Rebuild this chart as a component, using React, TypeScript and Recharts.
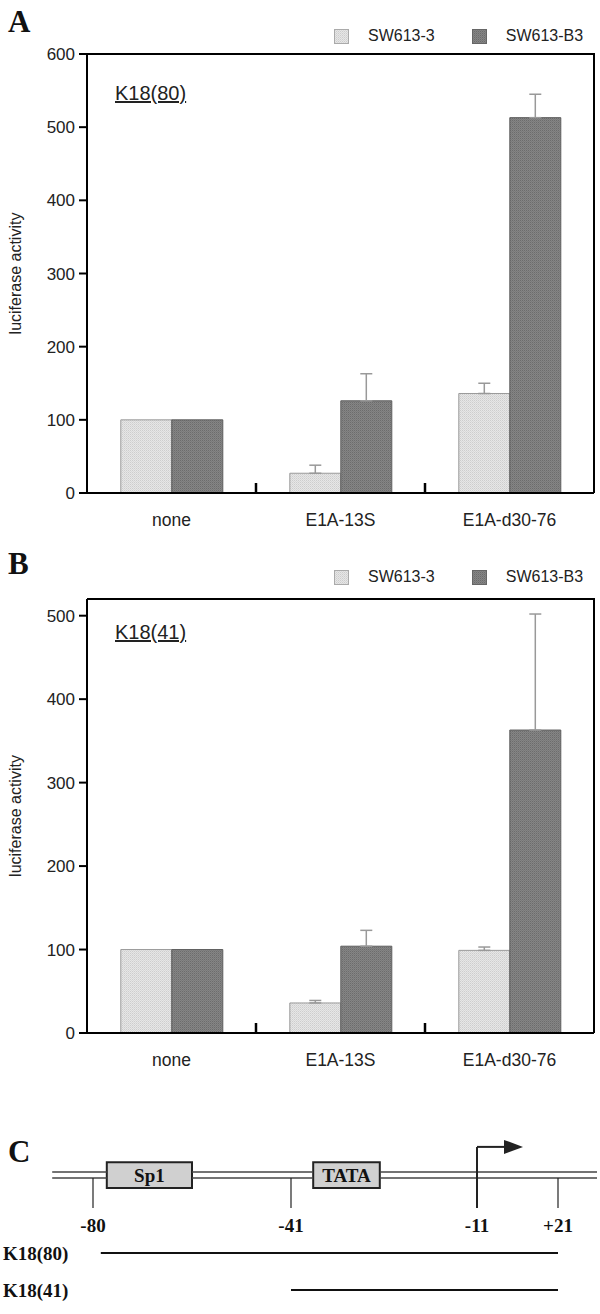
import {
  ComposedChart, Bar, XAxis, YAxis, ErrorBar, Legend, CartesianGrid,
  ReferenceLine, ReferenceArea, ReferenceDot,
} from 'recharts';

const SANS = '"Liberation Sans", Arial, sans-serif';
const SERIF = '"Liberation Serif", "Times New Roman", serif';

const groups = ['none', 'E1A-13S', 'E1A-d30-76'];
const cellLines = ['SW613-3', 'SW613-B3'];

// A: K18(80) reporter
const k80Sw3 = [100, 27, 136];
const k80Sw3Err = [null, 11, 14];
const k80B3 = [100, 126, 513];
const k80B3Err = [null, 37, 32];
const k80Ticks = [0, 100, 200, 300, 400, 500, 600];

// B: K18(41) reporter
const k41Sw3 = [100, 36, 99];
const k41Sw3Err = [null, 3, 4];
const k41B3 = [100, 104, 363];
const k41B3Err = [null, 19, 139];
const k41Ticks = [0, 100, 200, 300, 400, 500];

// C: promoter schematic, in diagram units (0-100 across the panel)
const siteLabels = ['-80', '-41', '-11', '+21'];
const sitePos = [15.5, 48.5, 79.5, 93];
const boxNames = ['Sp1', 'TATA'];
const boxFrom = [17.8, 52.2];
const boxTo = [32, 63.3];
const promoterSpan = [8.7, 99.5];
const constructs = ['K18(80)', 'K18(41)'];
const constructFrom = [16.8, 48.5];
const constructTo = 93;
const tssIndex = 2;

const toRows = (a: number[], ae: (number | null)[], b: number[], be: (number | null)[]) =>
  groups.map((g, i) => ({
    group: g,
    sw3: a[i],
    sw3Err: ae[i] == null ? null : [0, ae[i]],
    b3: b[i],
    b3Err: be[i] == null ? null : [0, be[i]],
  }));

const axisStroke = { stroke: '#000', strokeWidth: 2 };
const M = { top: 54, right: 6, left: 10, bottom: 12 };
const Y_W = 77;
const X_H = 40;

function GroupTick(props: any) {
  const { x, y, payload, index } = props;
  const half = payload?.offset ?? 84.5;
  return (
    <g>
      <text x={x} y={y + 27} textAnchor="middle" dominantBaseline="central"
        style={{ fontFamily: SANS, fontSize: 17.5, fill: '#222' }}>
        {payload.value}
      </text>
      {index > 0 && (
        <line x1={x - half} x2={x - half} y1={y} y2={y - 10} stroke="#000" strokeWidth={2.5} />
      )}
    </g>
  );
}

function KeyBox() {
  return (
    <div style={{ display: 'flex', alignItems: 'center', fontFamily: SANS, fontSize: 16, color: '#222' }}>
      {cellLines.map((name, i) => (
        <div key={name} style={{ display: 'flex', alignItems: 'center', marginRight: i === 0 ? 37 : 0 }}>
          <svg width={15} height={15} style={{ marginRight: 19 }}>
            <rect x={0.5} y={0.5} width={14} height={14}
              fill={i === 0 ? 'url(#texLight)' : 'url(#texDark)'}
              stroke={i === 0 ? '#aaa' : '#666'} />
          </svg>
          <span>{name}</span>
        </div>
      ))}
    </div>
  );
}

interface PanelProps {
  rows: any[];
  ticks: number[];
  yMax: number;
  construct: string;
  height: number;
  legendY: number;
  constructY: number;
}

function Panel({ rows, ticks, yMax, construct, height, legendY, constructY }: PanelProps) {
  const plotLeft = M.left + Y_W;
  const plotW = 600 - plotLeft - M.right;
  const plotH = height - M.top - M.bottom - X_H;
  return (
    <div style={{ position: 'relative', width: 600, height }}>
      <ComposedChart width={600} height={height} data={rows} margin={M}
        barCategoryGap="20%" barGap={0}>
        {/* top and right sides of the frame */}
        <CartesianGrid stroke="#000" strokeWidth={2}
          horizontalCoordinatesGenerator={({ offset }: any) => [offset.top]}
          verticalCoordinatesGenerator={({ offset }: any) => [offset.left + offset.width]} />
        <XAxis dataKey="group" height={X_H} interval={0} tickLine={false} tickSize={0} tickMargin={0}
          axisLine={axisStroke} tick={<GroupTick />} />
        <YAxis width={Y_W} type="number" domain={[0, yMax]} ticks={ticks}
          tickSize={8} tickMargin={4} tickLine={axisStroke} axisLine={axisStroke}
          tick={{ fontSize: 17, fill: '#222', fontFamily: SANS }}
          label={{
            value: 'luciferase activity', angle: -90, position: 'insideLeft', offset: 5,
            style: { textAnchor: 'middle', fontSize: 16, fontFamily: SANS, fill: '#222' },
          }} />
        <ReferenceLine y={yMax} stroke="#000" strokeWidth={2} />
        <Legend content={<KeyBox />} verticalAlign="middle" align="center"
          wrapperStyle={{ top: legendY - 10, left: 334, width: 262, height: 20 }} />
        <Bar dataKey="sw3" name={cellLines[0]} fill="url(#texLight)" stroke="#9a9a9a" strokeWidth={1}
          isAnimationActive={false}>
          <ErrorBar dataKey="sw3Err" direction="y" width={6} stroke="#999" strokeWidth={1.5} />
        </Bar>
        <Bar dataKey="b3" name={cellLines[1]} fill="url(#texDark)" stroke="#5e5e5e" strokeWidth={1}
          isAnimationActive={false}>
          <ErrorBar dataKey="b3Err" direction="y" width={6} stroke="#999" strokeWidth={1.5} />
        </Bar>
      </ComposedChart>
      <div style={{
        position: 'absolute', left: plotLeft, top: M.top - 1, width: plotW + 1, height: plotH + 1,
        boxSizing: 'border-box', borderTop: '2px solid #000', borderRight: '2px solid #000',
        pointerEvents: 'none', zIndex: 5,
      }} />
      <div style={{
        position: 'absolute', left: 115, top: constructY - 12, fontFamily: SANS, fontSize: 20,
        lineHeight: '24px', color: '#222', textDecoration: 'underline', zIndex: 5,
      }}>
        {construct}
      </div>
    </div>
  );
}

const serifLabel = (value: string, position: any = 'center') => ({
  value, position, offset: 0,
  style: { fontFamily: SERIF, fontSize: 19, fontWeight: 'bold', fill: '#111' },
});

function Schematic() {
  const lineY = [36.6, 39.3];
  const tickBottom = 52.7;
  const labelY = 60.3;
  const rowY = [72.8, 89.3];
  const arrowTop = 25.4;
  const tssX = sitePos[tssIndex];
  const strandCuts = [promoterSpan[0], ...boxFrom.flatMap((f, i) => [f, boxTo[i]]), promoterSpan[1]];
  const strandSegs: [number, number][] = [];
  for (let i = 0; i < strandCuts.length; i += 2) strandSegs.push([strandCuts[i], strandCuts[i + 1]]);

  return (
    <ComposedChart width={600} height={224} data={[{ x: 0, y: 0 }]}
      margin={{ top: 0, right: 0, bottom: 0, left: 0 }}>
      <XAxis type="number" dataKey="x" domain={[0, 100]} hide />
      <YAxis type="number" dataKey="y" domain={[0, 100]} reversed hide />
      {strandSegs.flatMap(([a, b], i) => lineY.map((ly, j) => (
        <ReferenceLine key={`s${i}-${j}`} segment={[{ x: a, y: ly }, { x: b, y: ly }]}
          stroke="#444" strokeWidth={1.5} />
      )))}
      {boxNames.map((name, i) => (
        <ReferenceArea key={name} x1={boxFrom[i]} x2={boxTo[i]} y1={32.3} y2={43.8}
          fill="#d0d0d0" fillOpacity={1} stroke="#222" strokeWidth={2}
          label={serifLabel(name)} />
      ))}
      {sitePos.map((p, i) => (
        <ReferenceLine key={`t${i}`}
          segment={[{ x: p, y: i === tssIndex ? arrowTop : lineY[1] }, { x: p, y: tickBottom }]}
          stroke="#222" strokeWidth={i === tssIndex ? 2 : 1.2} />
      ))}
      <ReferenceLine segment={[{ x: tssX, y: arrowTop }, { x: tssX + 4.5, y: arrowTop }]}
        stroke="#222" strokeWidth={2} />
      <ReferenceDot x={tssX + 4.5} y={arrowTop} r={8} isFront
        shape={(p: any) => (
          <polygon points={`${p.cx},${p.cy - 7} ${p.cx + 19},${p.cy} ${p.cx},${p.cy + 7}`} fill="#222" />
        )} />
      {siteLabels.map((s, i) => (
        <ReferenceDot key={s} x={sitePos[i]} y={labelY} r={0} fill="none" stroke="none"
          label={serifLabel(s)} />
      ))}
      {constructs.map((c, i) => (
        <ReferenceLine key={c} segment={[{ x: constructFrom[i], y: rowY[i] }, { x: constructTo, y: rowY[i] }]}
          stroke="#111" strokeWidth={2} />
      ))}
      {constructs.map((c, i) => (
        <ReferenceDot key={`l${c}`} x={0.5} y={rowY[i]} r={0} fill="none" stroke="none"
          label={serifLabel(c, 'right')} />
      ))}
    </ComposedChart>
  );
}

const letterStyle: React.CSSProperties = {
  position: 'absolute', left: 8, fontFamily: SERIF, fontWeight: 'bold', fontSize: 31, lineHeight: '32px', color: '#111',
};

export default function App() {
  return (
    <div style={{ position: 'absolute', left: 0, top: 0, width: 600, height: 1314 }}>
      <svg width={0} height={0} style={{ position: 'absolute' }}>
        <defs>
          <pattern id="texLight" width={2} height={2} patternUnits="userSpaceOnUse">
            <rect width={2} height={2} fill="#e6e6e6" />
            <rect width={1} height={1} fill="#cdcdcd" />
            <rect x={1} y={1} width={1} height={1} fill="#d8d8d8" />
          </pattern>
          <pattern id="texDark" width={2} height={2} patternUnits="userSpaceOnUse">
            <rect width={2} height={2} fill="#858585" />
            <rect width={1} height={1} fill="#6c6c6c" />
            <rect x={1} y={1} width={1} height={1} fill="#7a7a7a" />
          </pattern>
        </defs>
      </svg>
      <div style={{ position: 'absolute', left: 0, top: 0 }}>
        <Panel rows={toRows(k80Sw3, k80Sw3Err, k80B3, k80B3Err)} ticks={k80Ticks} yMax={600}
          construct="K18(80)" height={545} legendY={37} constructY={93} />
      </div>
      <div style={{ position: 'absolute', left: 0, top: 545 }}>
        <Panel rows={toRows(k41Sw3, k41Sw3Err, k41B3, k41B3Err)} ticks={k41Ticks} yMax={520}
          construct="K18(41)" height={540} legendY={33} constructY={87} />
      </div>
      <div style={{ position: 'absolute', left: 0, top: 1090 }}>
        <Schematic />
      </div>
      <div style={{ ...letterStyle, top: 6 }}>A</div>
      <div style={{ ...letterStyle, top: 548 }}>B</div>
      <div style={{ ...letterStyle, top: 1136 }}>C</div>
    </div>
  );
}
